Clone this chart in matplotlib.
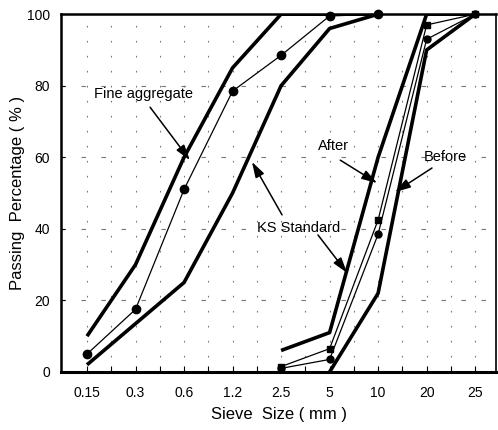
import numpy as np
import matplotlib.pyplot as plt

plt.rcParams['font.family'] = ['Liberation Sans', 'DejaVu Sans']

# sieve sizes (mm), plotted at equal spacing
SIZES = ['0.15', '0.3', '0.6', '1.2', '2.5', '5', '10', '20', '25']

# fine aggregate (sieves 0.15 .. 10)
FINE_POS = [0, 1, 2, 3, 4, 5, 6]
FINE_KS_UPPER = [10, 30, 60, 85, 100, 100, 100]
FINE_KS_LOWER = [2, 13.5, 25, 50, 80, 96, 100]
FINE_AGG = [5, 17.5, 51, 78.5, 88.5, 99.5, 100]

# coarse aggregate (sieves 2.5 .. 25)
COARSE_POS = [4, 5, 6, 7, 8]
COARSE_KS_UPPER = [6, 11, 60, 100, 100]
COARSE_KS_LOWER = [np.nan, 0, 22, 90, 100]
BEFORE = [1, 3.5, 38.5, 93, 100]
AFTER = [1.5, 6.5, 42.5, 97, 100]


def main():
    fig = plt.figure(figsize=(4.98, 4.30), dpi=100)
    ax = fig.add_axes([0.1225, 0.135, 0.8735, 0.832])

    # scanned-paper style dotted grid
    for xv in np.arange(0, 8.5, 0.5):
        ax.axvline(xv, color='#777777', lw=0.8, ls=(0, (1.5, 12)), zorder=0)
    for yv in [20, 40, 60, 80]:
        ax.axhline(yv, color='#777777', lw=0.8, ls=(0, (4, 14)), zorder=0)

    thick = dict(color='black', lw=2.6, solid_capstyle='butt', zorder=3)
    ax.plot(FINE_POS, FINE_KS_UPPER, **thick)
    ax.plot(FINE_POS, FINE_KS_LOWER, **thick)
    ax.plot(COARSE_POS, COARSE_KS_UPPER, **thick)
    ax.plot(COARSE_POS, COARSE_KS_LOWER, **thick)

    ax.plot(FINE_POS, FINE_AGG, color='black', lw=0.9, marker='o', ms=6,
            zorder=4, clip_on=False)
    ax.plot(COARSE_POS, BEFORE, color='black', lw=0.9, marker='o', ms=5,
            zorder=4, clip_on=False)
    ax.plot(COARSE_POS, AFTER, color='black', lw=0.9, marker='s', ms=5,
            zorder=4, clip_on=False)

    # labels with arrows
    arrow = dict(arrowstyle='-|>,head_length=0.55,head_width=0.17',
                 color='black', lw=1.1, mutation_scale=17,
                 shrinkA=0, shrinkB=0)
    fs = 10.5
    ax.text(1.155, 77.7, 'Fine aggregate', fontsize=fs, ha='center', va='center')
    ax.annotate('', xy=(2.12, 59.2), xytext=(1.30, 74.0), arrowprops=arrow)

    ax.text(5.07, 63.1, 'After', fontsize=fs, ha='center', va='center')
    ax.annotate('', xy=(5.98, 52.8), xytext=(5.22, 59.2), arrowprops=arrow)

    ax.text(7.38, 60.1, 'Before', fontsize=fs, ha='center', va='center')
    ax.annotate('', xy=(6.35, 50.3), xytext=(7.11, 57.0), arrowprops=arrow)

    ax.text(4.37, 40.2, 'KS Standard', fontsize=fs, ha='center', va='center')
    ax.annotate('', xy=(5.36, 27.7), xytext=(4.76, 38.3), arrowprops=arrow)
    ax.annotate('', xy=(3.40, 58.7), xytext=(4.02, 43.9), arrowprops=arrow)

    ax.set_xlim(-0.536, 8.43)
    ax.set_ylim(0, 100)
    ax.set_xticks(range(len(SIZES)))
    ax.set_xticklabels(SIZES)
    ax.set_xticks(np.arange(0.5, 8.5, 1.0), minor=True)
    ax.set_yticks([0, 20, 40, 60, 80, 100])
    ax.tick_params(axis='x', which='both', direction='in', length=4, width=0.8,
                   pad=10, labelsize=10)
    ax.tick_params(axis='y', direction='in', length=3, width=0.8, pad=8,
                   labelsize=10)

    ax.set_xlabel('Sieve  Size ( mm )', fontsize=12, labelpad=5)
    ax.set_ylabel('Passing  Percentage ( % )', fontsize=12, labelpad=1)

    ax.spines['left'].set_linewidth(1.8)
    ax.spines['bottom'].set_linewidth(2.2)
    ax.spines['top'].set_linewidth(1.8)
    ax.spines['right'].set_linewidth(1.2)

    fig.savefig('out.png', dpi=100)


if __name__ == '__main__':
    main()
